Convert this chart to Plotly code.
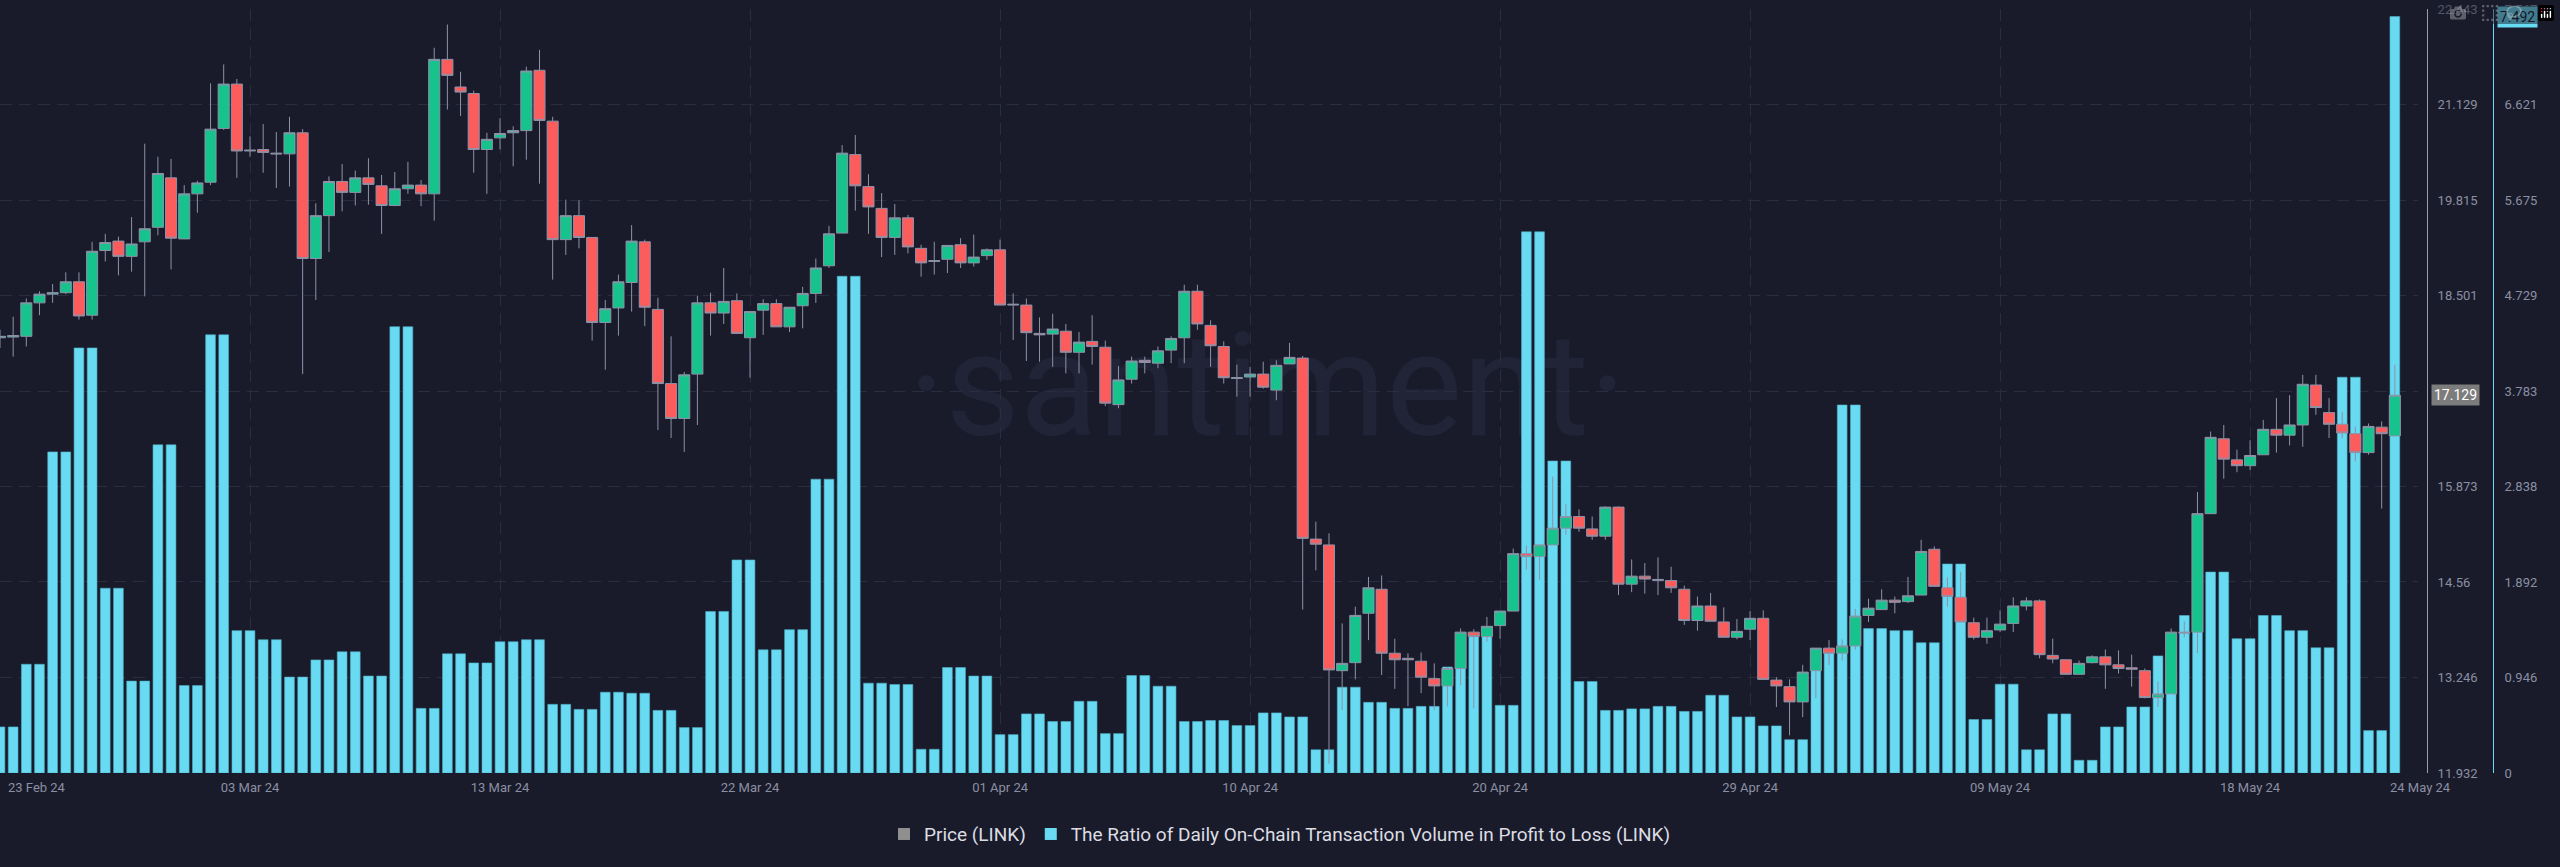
import pandas as pd
import plotly.graph_objects as go

# ---- data (12-hour candles, 23 Feb 2024 00:00 -> 24 May 2024 00:00) ----
price_open = [17.92, 17.93, 17.94, 18.40, 18.52, 18.54, 18.69, 18.23, 19.12, 19.25,
              19.04, 19.24, 19.44, 20.12, 19.28, 19.90, 20.06, 20.80, 21.41, 20.49,
              20.51, 20.46, 20.45, 20.74, 19.01, 19.60, 20.07, 19.92, 20.12, 20.01,
              19.74, 19.97, 20.02, 19.90, 21.75, 21.37, 21.28, 20.51, 20.67, 20.74,
              20.77, 21.60, 20.90, 19.27, 19.60, 19.30, 18.13, 18.33, 18.68, 19.24,
              18.31, 17.29, 16.81, 17.42, 18.40, 18.26, 18.43, 17.92, 18.30, 18.39,
              18.07, 18.36, 18.53, 18.91, 19.36, 20.44, 20.00, 19.70, 19.30, 19.57,
              19.15, 18.97, 19.00, 19.20, 18.95, 19.05, 19.13, 18.37, 18.37, 17.98,
              17.97, 18.01, 17.72, 17.87, 17.79, 17.00, 17.35, 17.61, 17.57, 17.75,
              17.92, 18.56, 18.09, 17.80, 17.36, 17.38, 17.42, 17.20, 17.56, 17.64,
              15.15, 15.07, 13.34, 13.45, 14.13, 14.46, 13.58, 13.51, 13.47, 13.23,
              13.13, 13.37, 13.87, 13.81, 13.96, 14.16, 14.95, 14.91, 15.07, 15.30,
              15.46, 15.29, 15.19, 15.59, 14.53, 14.64, 14.595, 14.58, 14.46, 14.03,
              14.23, 14.01, 13.80, 13.91, 14.06, 13.21, 13.12, 12.91, 13.34, 13.65,
              13.58, 13.68, 14.10, 14.18, 14.31, 14.29, 14.38, 15.01, 14.48, 14.35,
              14.00, 13.80, 13.90, 13.99, 14.23, 14.30, 13.55, 13.49, 13.29, 13.45,
              13.53, 13.42, 13.38, 13.34, 12.97, 13.02, 13.87, 13.87, 15.50, 16.53,
              16.24, 16.16, 16.31, 16.66, 16.58, 16.72, 17.27, 16.89, 16.73, 16.60,
              16.34, 16.69, 16.57]
price_high = [18.03, 18.21, 18.46, 18.56, 18.66, 18.82, 18.82, 19.24, 19.35, 19.31,
              19.58, 20.59, 20.41, 20.38, 20.02, 20.08, 21.42, 21.68, 21.48, 20.69,
              20.86, 20.75, 20.96, 20.79, 19.77, 20.14, 20.31, 20.22, 20.39, 20.16,
              20.20, 20.34, 20.09, 21.91, 22.23, 21.58, 21.32, 20.74, 20.94, 20.83,
              21.65, 21.88, 20.96, 19.82, 19.81, 19.30, 18.44, 18.79, 19.47, 19.27,
              18.47, 17.94, 17.45, 18.50, 18.54, 18.88, 18.53, 18.28, 18.45, 18.45,
              18.34, 18.62, 19.01, 19.46, 20.57, 20.71, 20.17, 19.91, 19.76, 19.61,
              19.20, 19.24, 19.19, 19.29, 19.34, 19.15, 19.27, 18.53, 18.46, 18.20,
              18.25, 18.11, 18.00, 18.23, 17.88, 17.53, 17.66, 17.66, 17.80, 17.94,
              18.65, 18.65, 18.16, 17.87, 17.55, 17.52, 17.59, 17.61, 17.85, 17.67,
              15.39, 15.23, 13.99, 14.22, 14.63, 14.65, 13.78, 13.58, 13.59, 13.44,
              13.39, 13.92, 13.91, 14.08, 14.16, 15.02, 15.06, 15.07, 16.01, 15.63,
              15.56, 15.46, 15.60, 15.60, 14.87, 14.82, 14.90, 14.77, 14.51, 14.36,
              14.41, 14.21, 14.05, 14.16, 14.17, 13.25, 13.22, 13.42, 13.65, 13.76,
              13.77, 14.19, 14.33, 14.46, 14.36, 14.63, 15.14, 15.05, 14.62, 14.70,
              14.07, 14.07, 14.17, 14.35, 14.35, 14.32, 13.78, 13.49, 13.48, 13.55,
              13.63, 13.62, 13.56, 13.37, 13.19, 13.92, 14.02, 15.80, 16.63, 16.72,
              16.38, 16.51, 16.79, 17.09, 17.13, 17.41, 17.41, 17.09, 16.90, 16.70,
              16.74, 16.77, 17.55]
price_low = [17.78, 17.66, 17.80, 18.23, 18.40, 18.52, 18.17, 18.17, 18.97, 18.78,
             18.83, 18.49, 19.33, 18.86, 19.28, 19.64, 20.02, 20.78, 20.12, 20.41,
             20.19, 19.98, 20.00, 17.42, 18.44, 19.10, 19.66, 19.74, 19.75, 19.35,
             19.73, 19.90, 19.73, 19.53, 21.06, 20.97, 20.19, 19.90, 20.51, 20.28,
             20.37, 20.04, 18.72, 19.06, 19.15, 17.88, 17.48, 17.95, 18.28, 18.08,
             16.65, 16.54, 16.35, 16.72, 17.95, 18.11, 17.98, 17.37, 17.96, 18.07,
             18.00, 18.05, 18.40, 18.88, 19.36, 19.67, 19.35, 19.03, 19.06, 19.08,
             18.76, 18.79, 18.81, 18.88, 18.90, 18.99, 18.37, 17.89, 17.60, 17.59,
             17.52, 17.43, 17.43, 17.55, 16.98, 16.95, 17.29, 17.43, 17.50, 17.57,
             17.57, 18.03, 17.52, 17.29, 17.11, 17.11, 17.22, 17.06, 17.56, 14.18,
             14.72, 12.06, 12.80, 13.22, 13.76, 13.28, 13.09, 12.85, 13.03, 12.80,
             12.85, 13.14, 12.82, 13.74, 13.78, 14.16, 14.73, 14.59, 15.07, 15.21,
             15.25, 15.14, 15.14, 14.38, 14.42, 14.40, 14.38, 14.41, 13.97, 13.89,
             14.02, 13.80, 13.77, 13.76, 13.21, 12.84, 12.45, 12.70, 12.96, 13.42,
             13.48, 13.63, 14.01, 14.18, 14.13, 14.27, 14.38, 14.49, 14.22, 14.01,
             13.77, 13.71, 13.87, 13.87, 14.17, 13.51, 13.44, 13.29, 13.29, 13.44,
             13.09, 13.30, 13.12, 12.96, 12.84, 13.02, 13.80, 13.58, 15.50, 15.98,
             16.07, 16.10, 16.31, 16.34, 16.44, 16.42, 16.86, 16.54, 16.54, 16.22,
             16.31, 15.57, 16.57]
price_close = [17.94, 17.95, 18.40, 18.52, 18.54, 18.69, 18.22, 19.11, 19.23, 19.04,
               19.21, 19.42, 20.18, 19.29, 19.90, 20.05, 20.79, 21.41, 20.49, 20.50,
               20.47, 20.45, 20.74, 19.01, 19.60, 20.07, 19.92, 20.12, 20.03, 19.74,
               19.97, 20.02, 19.90, 21.75, 21.53, 21.30, 20.51, 20.65, 20.73, 20.77,
               21.59, 20.91, 19.27, 19.60, 19.30, 18.13, 18.32, 18.69, 19.25, 18.34,
               17.29, 16.81, 17.41, 18.40, 18.26, 18.42, 17.98, 18.28, 18.39, 18.07,
               18.34, 18.53, 18.88, 19.35, 20.46, 20.01, 19.72, 19.30, 19.57, 19.17,
               18.95, 18.98, 19.19, 18.95, 19.03, 19.13, 18.37, 18.38, 17.99, 17.96,
               18.04, 17.72, 17.86, 17.80, 17.02, 17.34, 17.60, 17.58, 17.74, 17.91,
               18.56, 18.11, 17.81, 17.37, 17.37, 17.42, 17.24, 17.54, 17.65, 15.16,
               15.08, 13.35, 13.44, 14.10, 14.48, 13.58, 13.49, 13.49, 13.25, 13.13,
               13.37, 13.87, 13.81, 13.95, 14.16, 14.95, 14.91, 15.07, 15.30, 15.46,
               15.30, 15.19, 15.59, 14.53, 14.64, 14.60, 14.585, 14.48, 14.03, 14.23,
               14.02, 13.80, 13.88, 14.06, 13.22, 13.13, 12.91, 13.32, 13.65, 13.58,
               13.68, 14.09, 14.20, 14.31, 14.28, 14.37, 14.98, 14.50, 14.36, 14.01,
               13.80, 13.89, 13.98, 14.23, 14.30, 13.56, 13.50, 13.29, 13.44, 13.53,
               13.42, 13.37, 13.36, 12.97, 13.02, 13.87, 13.86, 15.50, 16.55, 16.25,
               16.16, 16.30, 16.66, 16.58, 16.72, 17.28, 16.96, 16.73, 16.61, 16.34,
               16.70, 16.60, 17.129]
# daily ratio of on-chain volume in profit to loss (23 Feb .. 24 May)
ratio_daily = [0.456, 1.077, 3.18, 4.21, 1.83, 0.91, 3.25, 0.866, 4.34, 1.41,
               1.32, 0.95, 1.12, 1.20, 0.96, 4.42, 0.64, 1.18, 1.09, 1.30,
               1.32, 0.68, 0.63, 0.80, 0.79, 0.62, 0.45, 1.60, 2.11, 1.22,
               1.42, 2.91, 4.92, 0.89, 0.876, 0.235, 1.045, 0.96, 0.38, 0.585,
               0.51, 0.71, 0.39, 0.965, 0.86, 0.51, 0.52, 0.47, 0.595, 0.555,
               0.23, 0.85, 0.70, 0.64, 0.66, 1.05, 1.38, 0.67, 5.36, 3.09,
               0.906, 0.62, 0.635, 0.66, 0.61, 0.77, 0.555, 0.466, 0.33, 1.23,
               3.645, 1.43, 1.41, 1.29, 2.07, 0.53, 0.88, 0.23, 0.585, 0.126,
               0.456, 0.654, 1.16, 1.56, 1.99, 1.33, 1.56, 1.41, 1.24, 3.92,
               0.42, 7.492]
price_ticks = [11.932, 13.246, 14.56, 15.873, 17.187, 18.501, 19.815, 21.129, 22.443]
ratio_ticks = [0, 0.946, 1.892, 2.838, 3.783, 4.729, 5.675, 6.621, 7.567]
first_date_label = "23 Feb 24"
last_date_label = "24 May 24"
price_name = "Price (LINK)"
ratio_name = "The Ratio of Daily On-Chain Transaction Volume in Profit to Loss (LINK)"

times = pd.date_range("2024-02-23 00:00", periods=len(price_close), freq="12h")
ratio = [ratio_daily[i // 2] for i in range(len(times))]
date_ticks = pd.date_range("2024-03-03 12:00", periods=9, freq="228h")

BG = "#191b2a"
GRID = "#2a2d3f"
TICK = "#8b8fa3"
GREEN = "#17c38d"
RED = "#fc5c5c"
CYAN = "#68daf2"
WICK = "#8e92a8"
FONT = "Roboto"

fig = go.Figure()
fig.add_trace(go.Bar(
    x=times, y=ratio, name=ratio_name, showlegend=False,
    marker=dict(color=CYAN, line=dict(color="#4fb0c8", width=0.6)),
    xaxis="x", yaxis="y", hoverinfo="skip"))
fig.add_trace(go.Candlestick(
    x=times, open=price_open, high=price_high, low=price_low, close=price_close,
    name=price_name, showlegend=False, whiskerwidth=0,
    increasing=dict(fillcolor=GREEN, line=dict(color=WICK, width=1)),
    decreasing=dict(fillcolor=RED, line=dict(color=WICK, width=1)),
    xaxis="x", yaxis="y2", hoverinfo="skip"))
# legend entries
fig.add_trace(go.Scatter(x=[None], y=[None], mode="markers", name=price_name,
                         marker=dict(symbol="square", size=12, color="#8f8f8f")))
fig.add_trace(go.Scatter(x=[None], y=[None], mode="markers", name=ratio_name,
                         marker=dict(symbol="square", size=12, color=CYAN)))

fig.update_layout(
    width=2560, height=867,
    paper_bgcolor=BG, plot_bgcolor=BG,
    margin=dict(l=0, r=0, t=9, b=94),
    font=dict(family=FONT, color=TICK, size=13),
    boxgap=0.16, boxgroupgap=0, bargap=0.26,
    xaxis=dict(
        domain=[0, 2418 / 2560],
        range=["2024-02-23 00:00", "2024-05-24 21:07"],
        type="date", tickvals=list(date_ticks), tickformat="%d %b %y",
        showgrid=True, gridcolor=GRID, griddash="12px,7px", gridwidth=1,
        zeroline=False, showline=False, ticks="", ticklabelstandoff=5,
        tickfont=dict(size=13, color=TICK),
        rangeslider=dict(visible=False), fixedrange=True),
    yaxis=dict(
        range=[0, 7.567], tickvals=ratio_ticks, ticktext=[str(v) for v in ratio_ticks],
        side="right", anchor="free", position=2493 / 2560,
        showline=True, linecolor=CYAN, linewidth=1,
        showgrid=True, gridcolor=GRID, griddash="12px,7px", gridwidth=1,
        zeroline=False, ticks="", ticklabelstandoff=8,
        tickfont=dict(size=13, color=TICK), fixedrange=True),
    yaxis2=dict(
        range=[11.932, 22.443], tickvals=price_ticks, ticktext=[str(v) for v in price_ticks],
        overlaying="y", side="right", anchor="free", position=2427 / 2560,
        showline=True, linecolor="#9a9db0", linewidth=1,
        showgrid=False, zeroline=False, ticks="", ticklabelstandoff=7,
        tickfont=dict(size=13, color=TICK), fixedrange=True),
    legend=dict(orientation="h", x=0.5, xanchor="center", y=-0.08, yanchor="middle",
                font=dict(size=19, color="#dcdde3", family=FONT),
                bgcolor="rgba(0,0,0,0)", itemsizing="constant", itemwidth=30),
    showlegend=True,
)

# watermark
fig.add_shape(type="rect", xref="paper", yref="paper",
              x0=0.30, x1=0.69, y0=0.42, y1=0.62, layer="below",
              line=dict(width=0), fillcolor="rgba(0,0,0,0)",
              label=dict(text="·santiment·", textposition="middle center",
                         font=dict(size=144, color="#212436", family=FONT)))

# edge date labels
for lbl, px in [(first_date_label, 37), (last_date_label, 2420)]:
    fig.add_annotation(text=lbl, xref="paper", yref="paper", x=px / 2560, y=0,
                       xanchor="center", yanchor="top", yshift=-5, showarrow=False,
                       font=dict(size=13, color=TICK, family=FONT))

# last-value tags
fig.add_annotation(text=f"{price_close[-1]:.3f}", xref="paper", yref="y2",
                   x=2431 / 2560, y=price_close[-1], xanchor="left", yanchor="middle",
                   showarrow=False, bgcolor="#7c7c7c", borderpad=2,
                   font=dict(size=14, color="#ffffff", family=FONT))
fig.add_annotation(text=f"{ratio_daily[-1]:.3f}", xref="paper", yref="y",
                   x=2497 / 2560, y=ratio_daily[-1], xanchor="left", yanchor="middle",
                   showarrow=False, bgcolor=CYAN, borderpad=2,
                   font=dict(size=14, color="#10121c", family=FONT))

fig.write_html("out.html",
               post_script="document.body.style.margin='0';document.body.style.overflow='hidden';")
